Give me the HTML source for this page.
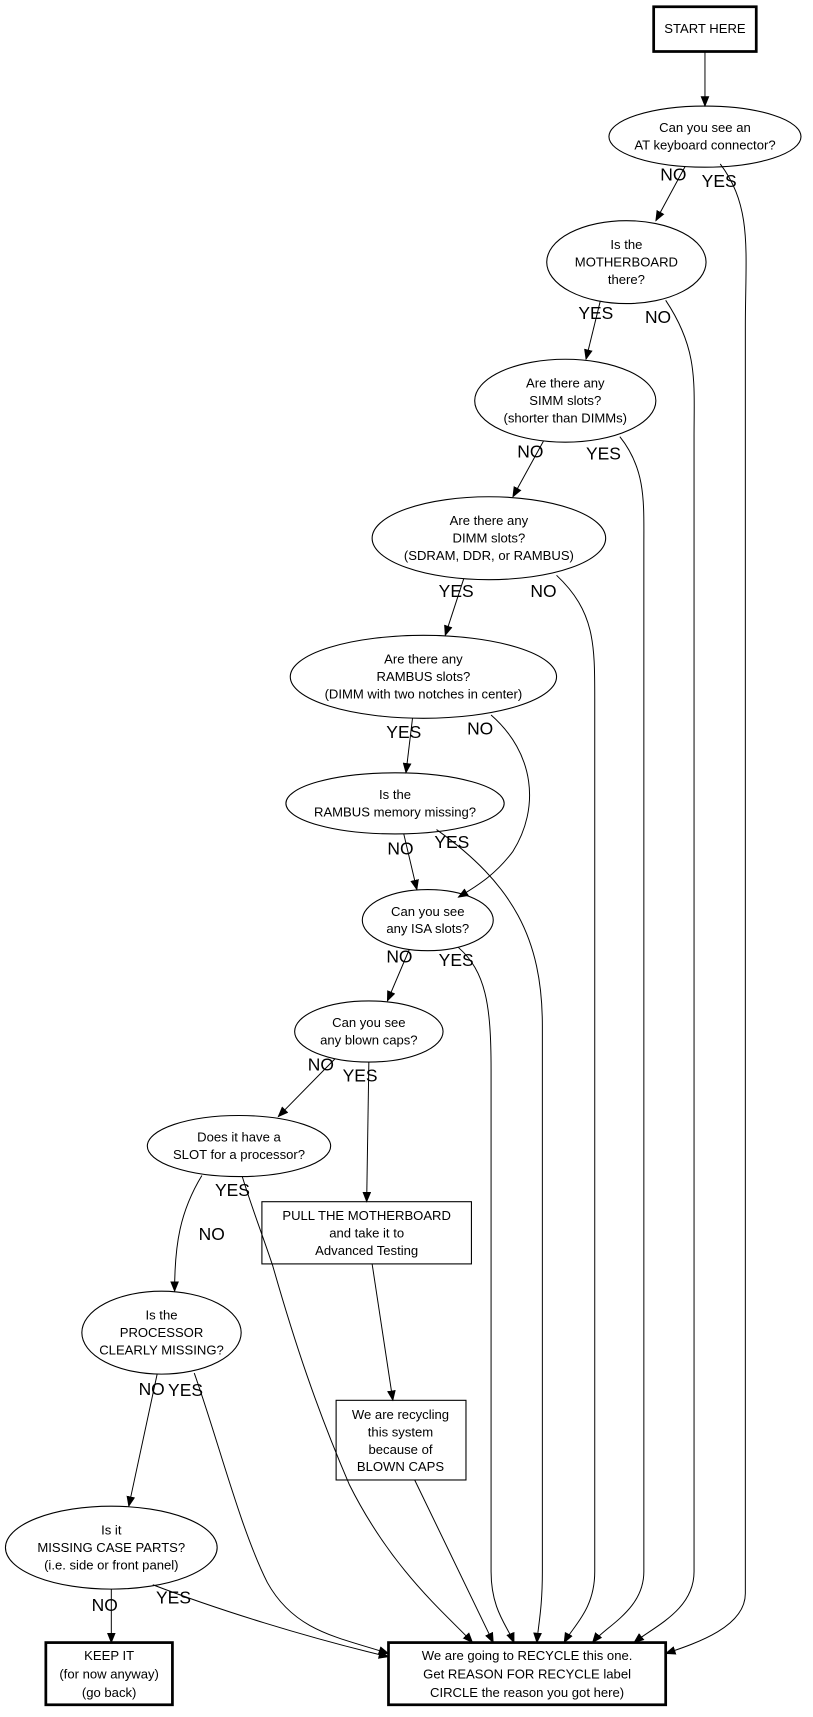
<!DOCTYPE html>
<html><head><meta charset="utf-8"><style>
html,body{margin:0;padding:0;background:#fff;}
svg{display:block;}
text{font-family:"Liberation Sans",sans-serif;fill:#000;}
.n{font-size:12px;text-anchor:middle;}
.l{font-size:16px;text-anchor:middle;}
</style></head><body>
<svg width="813" height="1717" viewBox="0 0 745 1573" xmlns="http://www.w3.org/2000/svg">
<defs><marker id="a" markerWidth="10" markerHeight="8" refX="9" refY="4" orient="auto" markerUnits="userSpaceOnUse"><path d="M0,0 L10,4 L0,8z" fill="#000"/></marker></defs>
<g fill="none" stroke="#000" stroke-width="1">
<rect x="599" y="6" width="94" height="41" stroke-width="2.5"/>
<ellipse cx="646" cy="125" rx="88" ry="28"/>
<ellipse cx="574" cy="240" rx="73" ry="38"/>
<ellipse cx="518" cy="367" rx="83" ry="38"/>
<ellipse cx="448" cy="493" rx="107" ry="38"/>
<ellipse cx="388" cy="620" rx="122" ry="38"/>
<ellipse cx="362" cy="736" rx="100" ry="28"/>
<ellipse cx="392" cy="843" rx="60" ry="28"/>
<ellipse cx="338" cy="945" rx="68" ry="28"/>
<ellipse cx="219" cy="1050" rx="84" ry="28"/>
<rect x="240" y="1101" width="192" height="57"/>
<ellipse cx="148" cy="1221" rx="73" ry="38"/>
<rect x="308" y="1283" width="119" height="73"/>
<ellipse cx="102" cy="1418" rx="97" ry="38"/>
<rect x="42" y="1505" width="116" height="57" stroke-width="2.5"/>
<rect x="356" y="1505" width="254" height="57" stroke-width="2.5"/>
</g>
<g fill="none" stroke="#000" stroke-width="0.9" marker-end="url(#a)">
<path d="M646,47 L646,97"/>
<path d="M628,152 L601,202"/>
<path d="M550,276 L537,329"/>
<path d="M498,404 L470,455"/>
<path d="M425,530 L408,582"/>
<path d="M378,658 L372,708"/>
<path d="M450,655 C490,690 495,740 470,780 C455,800 440,810 420,822"/>
<path d="M370,764 L382,815"/>
<path d="M375,870 L355,917"/>
<path d="M307,970 L255,1023"/>
<path d="M338,973 L336,1101"/>
<path d="M185,1077 C165,1110 160,1140 160,1183"/>
<path d="M341,1158 L360,1283"/>
<path d="M144,1259 L118,1380"/>
<path d="M102,1456 L102,1505"/>
<path d="M660,150 C690,190 683,230 683,300 L683,1460 C683,1490 640,1505 610,1515"/>
<path d="M610,275 C640,320 636,350 636,400 L636,1440 C636,1475 600,1490 581,1505"/>
<path d="M568,400 C592,430 590,460 590,500 L590,1440 C590,1475 555,1490 543,1505"/>
<path d="M510,527 C545,560 545,590 545,640 L545,1440 C545,1475 525,1490 517,1505"/>
<path d="M400,760 C470,810 497,860 497,940 L497,1440 C497,1475 493,1490 492,1505"/>
<path d="M420,868 C445,890 450,920 450,980 L450,1440 C450,1475 465,1490 471,1505"/>
<path d="M380,1356 L452,1505"/>
<path d="M222,1078 C232,1110 240,1130 250,1160 C270,1230 290,1290 320,1360 C360,1440 410,1480 433,1505"/>
<path d="M178,1258 C200,1320 220,1400 245,1450 C270,1495 310,1500 356,1515"/>
<path d="M140,1452 C200,1475 280,1500 356,1518"/>
</g>
<g class="n">
<text x="646" y="30">START HERE</text>
<text x="646" y="121">Can you see an</text><text x="646" y="137">AT keyboard connector?</text>
<text x="574" y="228">Is the</text><text x="574" y="244">MOTHERBOARD</text><text x="574" y="260">there?</text>
<text x="518" y="355">Are there any</text><text x="518" y="371">SIMM slots?</text><text x="518" y="387">(shorter than DIMMs)</text>
<text x="448" y="481">Are there any</text><text x="448" y="497">DIMM slots?</text><text x="448" y="513">(SDRAM, DDR, or RAMBUS)</text>
<text x="388" y="608">Are there any</text><text x="388" y="624">RAMBUS slots?</text><text x="388" y="640">(DIMM with two notches in center)</text>
<text x="362" y="732">Is the</text><text x="362" y="748">RAMBUS memory missing?</text>
<text x="392" y="839">Can you see</text><text x="392" y="855">any ISA slots?</text>
<text x="338" y="941">Can you see</text><text x="338" y="957">any blown caps?</text>
<text x="219" y="1046">Does it have a</text><text x="219" y="1062">SLOT for a processor?</text>
<text x="336" y="1118">PULL THE MOTHERBOARD</text><text x="336" y="1134">and take it to</text><text x="336" y="1150">Advanced Testing</text>
<text x="148" y="1209">Is the</text><text x="148" y="1225">PROCESSOR</text><text x="148" y="1241">CLEARLY MISSING?</text>
<text x="367" y="1300">We are recycling</text><text x="367" y="1316">this system</text><text x="367" y="1332">because of</text><text x="367" y="1348">BLOWN CAPS</text>
<text x="102" y="1406">Is it</text><text x="102" y="1422">MISSING CASE PARTS?</text><text x="102" y="1438">(i.e. side or front panel)</text>
<text x="100" y="1521">KEEP IT</text><text x="100" y="1538">(for now anyway)</text><text x="100" y="1555">(go back)</text>
<text x="483" y="1521">We are going to RECYCLE this one.</text><text x="483" y="1538">Get REASON FOR RECYCLE label</text><text x="483" y="1555">CIRCLE the reason you got here)</text>
</g>
<g class="l">
<text x="617" y="165">NO</text><text x="659" y="171">YES</text>
<text x="546" y="292">YES</text><text x="603" y="296">NO</text>
<text x="486" y="419">NO</text><text x="553" y="421">YES</text>
<text x="418" y="547">YES</text><text x="498" y="547">NO</text>
<text x="370" y="676">YES</text><text x="440" y="673">NO</text>
<text x="367" y="783">NO</text><text x="414" y="777">YES</text>
<text x="366" y="882">NO</text><text x="418" y="885">YES</text>
<text x="294" y="981">NO</text><text x="330" y="991">YES</text>
<text x="213" y="1096">YES</text><text x="194" y="1136">NO</text>
<text x="139" y="1278">NO</text><text x="170" y="1279">YES</text>
<text x="96" y="1476">NO</text><text x="159" y="1469">YES</text>
</g>
</svg>
</body></html>
